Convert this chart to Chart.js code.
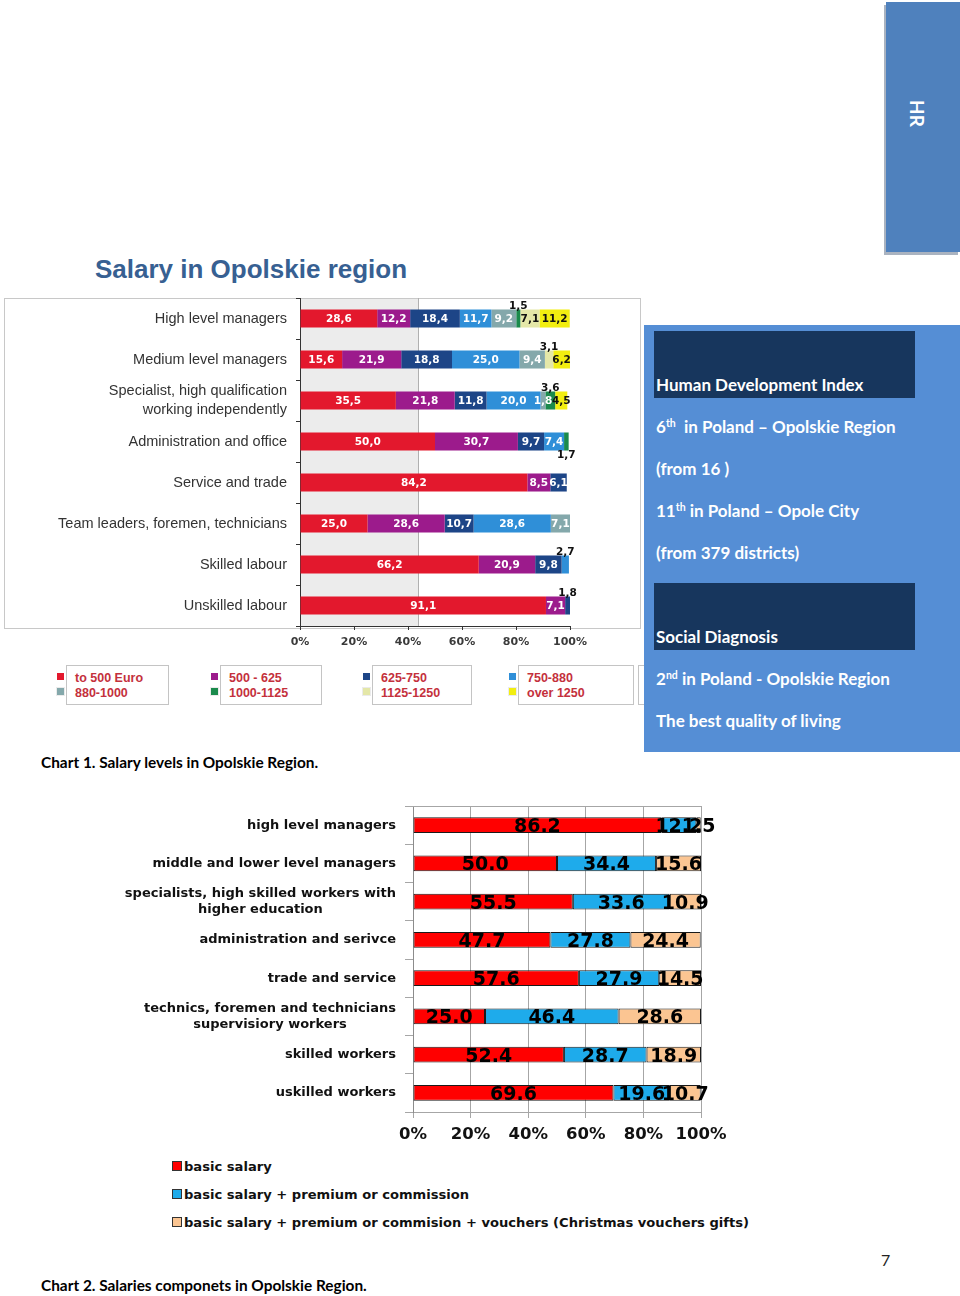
<!DOCTYPE html>
<html><head><meta charset="utf-8">
<script src="https://cdn.jsdelivr.net/npm/chart.js@4.4.1/dist/chart.umd.min.js"></script>
<style>
html,body{margin:0;padding:0;background:#fff;}
body{width:960px;height:1296px;position:relative;overflow:hidden;font-family:Lato,"Open Sans",sans-serif;}
.abs{position:absolute;}
#hr{left:886px;top:2px;width:74px;height:250px;background:#4f81bd;box-shadow:-2px 3px 0 #aab3c0;}
#hr span{position:absolute;left:20px;top:98px;writing-mode:vertical-rl;color:#fff;font:bold 19px Lato;}
#title{left:95px;top:254px;font:bold 26px "Liberation Sans",Arial,sans-serif;color:#376092;white-space:nowrap;}
#frame1{left:4px;top:298px;width:635px;height:329px;border:1px solid #c8c8c8;}
#side{left:644px;top:325px;width:316px;height:427px;background:#558ed5;}
.dark{position:absolute;left:10px;width:261px;height:67px;background:#17365d;}
.st{position:absolute;left:12px;color:#fff;font:bold 17px Lato;white-space:nowrap;line-height:20px;}
.st sup{font-size:10.5px;vertical-align:6px;line-height:0;}
.cap{position:absolute;left:41px;font:bold 15.4px Lato;color:#000;white-space:nowrap;line-height:18px;}
.lbox{position:absolute;top:665px;height:38px;background:#fff;border:1px solid #c4c4c4;}
.lbox div{position:absolute;left:8px;font:bold 12.5px "Liberation Sans",Arial,sans-serif;color:#c4303c;white-space:nowrap;line-height:14px;}
.lsq{position:absolute;width:7px;height:7px;}
.l2{position:absolute;left:172px;font:bold 13.1px "DejaVu Sans";color:#111;white-space:nowrap;line-height:16px;}
.l2 i{display:inline-block;width:8px;height:8px;border:1px solid #333;margin-right:2px;vertical-align:0px;}
</style></head>
<body>
<div id="hr" class="abs"><span>HR</span></div>
<div id="title" class="abs">Salary in Opolskie region</div>
<div id="frame1" class="abs"></div>
<div class="abs" style="left:4px;top:298px;"><canvas id="c1" width="636" height="356"></canvas></div>
<div id="legend1"></div>
<div class="lbox" style="left:638px;width:20px;"></div>
<div id="side" class="abs">
  <div class="dark" style="top:6px;"></div>
  <div class="dark" style="top:258px;"></div>
  <div class="st" style="top:50px;">Human Development Index</div>
  <div class="st" style="top:92px;">6<sup>th</sup>&nbsp; in Poland – Opolskie Region</div>
  <div class="st" style="top:134px;">(from 16 )</div>
  <div class="st" style="top:176px;">11<sup>th</sup> in Poland – Opole City</div>
  <div class="st" style="top:218px;">(from 379 districts)</div>
  <div class="st" style="top:302px;">Social Diagnosis</div>
  <div class="st" style="top:344px;">2<sup>nd</sup> in Poland - Opolskie Region</div>
  <div class="st" style="top:386px;">The best quality of living</div>
</div>
<div class="cap" style="top:753px;">Chart 1. Salary levels in Opolskie Region.</div>
<div class="abs" style="left:100px;top:800px;"><canvas id="c2" width="640" height="345"></canvas></div>
<div id="legend2"></div>
<div class="cap" style="top:1276px;">Chart 2. Salaries componets in Opolskie Region.</div>
<div class="abs" style="left:881px;top:1250px;font:16px Lato;color:#222;">7</div>

<script>
// ---------- Chart 1 data ----------
const occupations1 = ['High level managers','Medium level managers',['Specialist, high qualification','working independently'],'Administration and office','Service and trade','Team leaders, foremen, technicians','Skilled labour','Unskilled labour'];
const bands = ['to 500 Euro','500 - 625','625-750','750-880','880-1000','1000-1125','1125-1250','over 1250'];
const to500     = [28.6, 15.6, 35.5, 50.0, 84.2, 25.0, 66.2, 91.1];
const b500_625  = [12.2, 21.9, 21.8, 30.7, 8.5, 28.6, 20.9, 7.1];
const b625_750  = [18.4, 18.8, 11.8, 9.7, 6.1, 10.7, 9.8, 1.8];
const b750_880  = [11.7, 25.0, 20.0, 7.4, 0, 28.6, 2.7, 0];
const b880_1000 = [9.2, 9.4, 1.8, 0, 0, 7.1, 0, 0];
const b1000_1125= [1.5, 0, 3.6, 1.7, 0, 0, 0, 0];
const b1125_1250= [7.1, 3.1, 0, 0, 0, 0, 0, 0];
const over1250  = [11.2, 6.2, 4.5, 0, 0, 0, 0, 0];
const axisTicks1 = [0,20,40,60,80,100];

// ---------- Chart 2 data ----------
const occupations2 = ['high level managers','middle and lower level managers',['specialists, high skilled workers with','higher education'],'administration and serivce','trade and service',['technics, foremen and technicians','supervisiory workers'],'skilled workers','uskilled workers'];
const components = ['basic salary','basic salary + premium or commission','basic salary + premium or commision + vouchers (Christmas vouchers gifts)'];
const basicSalary  = [86.2, 50.0, 55.5, 47.7, 57.6, 25.0, 52.4, 69.6];
const withPremium  = [12.2, 34.4, 33.6, 27.8, 27.9, 46.4, 28.7, 19.6];
const withVouchers = [1.5, 15.6, 10.9, 24.4, 14.5, 28.6, 18.9, 10.7];

// ---------- styles ----------
const bandValues = [to500,b500_625,b625_750,b750_880,b880_1000,b1000_1125,b1125_1250,over1250];
const bandColors = ['#e3182d','#9c1b8c','#1d4587','#2f8fd8','#84a8ab','#1a8a4c','#e4e7a8','#f2ee10'];
const darkText1 = [6,7];
const outside1 = {'5-0':-13,'6-1':-13,'5-2':-13,'5-3':13,'3-6':-13,'2-7':-13};
const compValues = [basicSalary, withPremium, withVouchers];
const compColors = ['#ff0000','#1eabeb','#fbc592'];

// legend 1
(function(){
  const lefts=[66,220,372,518], widths=[101,100,98,114];
  let h='';
  for(let k=0;k<4;k++){
    const a=k, b=k+4;
    h+=`<div class="lsq" style="left:${lefts[k]-9}px;top:673px;background:${bandColors[a]}"></div>`;
    h+=`<div class="lsq" style="left:${lefts[k]-9}px;top:688px;background:${bandColors[b]};outline:1px solid rgba(0,0,0,0.08)"></div>`;
    h+=`<div class="lbox" style="left:${lefts[k]}px;width:${widths[k]}px;"><div style="top:5px">${bands[a]}</div><div style="top:20px">${bands[b]}</div></div>`;
  }
  document.getElementById('legend1').innerHTML=h;
  let h2='';
  components.forEach((c,i)=>{
    h2+=`<div class="l2" style="top:${1159+i*28}px;"><i style="background:${compColors[i]}"></i>${c}</div>`;
  });
  document.getElementById('legend2').innerHTML=h2;
})();

function noVPad(s){ s.paddingTop=0; s.paddingBottom=0; }

const shade1 = {
  id:'shade1',
  beforeDatasetsDraw(chart){
    const ctx=chart.ctx, a=chart.chartArea, xs=chart.scales.x;
    const xr=xs.getPixelForValue(43.7);
    ctx.save();
    ctx.fillStyle='#ececec';
    ctx.fillRect(a.left+1,a.top+1,xr-a.left-1,a.bottom-a.top-1);
    ctx.strokeStyle='#b0b0b0'; ctx.lineWidth=1;
    ctx.beginPath(); ctx.moveTo(Math.round(xr)+0.5,a.top); ctx.lineTo(Math.round(xr)+0.5,a.bottom); ctx.stroke();
    ctx.restore();
  }
};
const labels1 = {
  id:'labels1',
  afterDatasetsDraw(chart){
    const ctx=chart.ctx; ctx.save();
    ctx.font='bold 10.5px "DejaVu Sans"'; ctx.textAlign='center'; ctx.textBaseline='middle';
    chart.data.datasets.forEach((ds,di)=>{
      chart.getDatasetMeta(di).data.forEach((el,j)=>{
        const v=ds.data[j]; if(!v) return;
        let x=(el.x+el.base)/2, y=el.y+0.5;
        let col=darkText1.includes(di)?'#111':'#fff';
        const off=outside1[di+'-'+j];
        if(off!==undefined){col='#111'; y+=off;}
        ctx.fillStyle=col;
        ctx.fillText(v.toFixed(1).replace('.',','),x,y);
      });
    });
    ctx.restore();
  }
};

new Chart(document.getElementById('c1'),{
  type:'bar',
  data:{labels:occupations1,datasets:bands.map((n,i)=>({label:n,data:bandValues[i],backgroundColor:bandColors[i],borderWidth:0,barPercentage:0.44,categoryPercentage:1}))},
  options:{
    indexAxis:'y',responsive:false,animation:false,devicePixelRatio:1,
    layout:{padding:{left:0,right:70,top:0,bottom:0}},
    plugins:{legend:{display:false},tooltip:{enabled:false}},
    scales:{
      x:{stacked:true,min:0,max:100,afterBuildTicks(s){s.ticks=axisTicks1.map(v=>({value:v}));},
        ticks:{callback:v=>v+'%',font:{family:'DejaVu Sans',size:11,weight:'bold'},color:'#3a3a3a',padding:6,maxRotation:0},
        grid:{drawOnChartArea:false,drawTicks:true,tickLength:4,color:'#333'},border:{color:'#333'},
        afterFit(s){s.height=28;}},
      y:{stacked:true,ticks:{font:{family:'Liberation Sans',size:14.5,lineHeight:1.35},color:'#333',padding:9,autoSkip:false},
        grid:{drawOnChartArea:false,offset:true,tickLength:4,color:'#333'},border:{color:'#333'},
        afterFit(s){s.width=296; noVPad(s);}}
    }
  },
  plugins:[shade1,labels1]
});

const labels2 = {
  id:'labels2',
  beforeDatasetsDraw(chart){
    const ctx=chart.ctx,a=chart.chartArea;
    ctx.save(); ctx.strokeStyle='#a6a6a6'; ctx.lineWidth=1;
    ctx.beginPath(); ctx.moveTo(a.left,Math.round(a.top)+0.5); ctx.lineTo(a.right,Math.round(a.top)+0.5); ctx.stroke();
    ctx.restore();
  },
  afterDatasetsDraw(chart){
    const ctx=chart.ctx,a=chart.chartArea,ys=chart.scales.y;
    ctx.save();
    ctx.font='bold 13px "DejaVu Sans"'; ctx.fillStyle='#111'; ctx.textAlign='center'; ctx.textBaseline='middle';
    const right=a.left-17;
    chart.data.labels.forEach((lab,i)=>{
      const lines=Array.isArray(lab)?lab:[lab];
      const w=Math.max(...lines.map(l=>ctx.measureText(l).width));
      const cx=right-w/2, cy=ys.getPixelForValue(i);
      lines.forEach((l,k)=>ctx.fillText(l,cx,cy+(k-(lines.length-1)/2)*16));
    });
    ctx.font='bold 19px "DejaVu Sans"'; ctx.fillStyle='#000';
    chart.data.datasets.forEach((ds,di)=>{
      chart.getDatasetMeta(di).data.forEach((el,j)=>{
        const v=ds.data[j]; if(!v) return;
        ctx.fillText(v.toFixed(1),(el.x+el.base)/2,el.y+2);
      });
    });
    ctx.restore();
  }
};

new Chart(document.getElementById('c2'),{
  type:'bar',
  data:{labels:occupations2,datasets:components.map((n,i)=>({label:n,data:compValues[i],backgroundColor:compColors[i],borderColor:'#1a1a1a',borderWidth:1,borderSkipped:false,barPercentage:0.41,categoryPercentage:1}))},
  options:{
    indexAxis:'y',responsive:false,animation:false,devicePixelRatio:1,
    layout:{padding:{left:0,right:39,top:6,bottom:0}},
    plugins:{legend:{display:false},tooltip:{enabled:false}},
    scales:{
      x:{stacked:true,min:0,max:100,afterBuildTicks(s){s.ticks=axisTicks1.map(v=>({value:v}));},
        ticks:{callback:v=>v+'%',font:{family:'DejaVu Sans',size:16.5,weight:'bold'},color:'#111',padding:7,maxRotation:0},
        grid:{drawOnChartArea:true,drawTicks:true,tickLength:6,color:'#a6a6a6'},border:{color:'#a6a6a6'},
        afterFit(s){s.height=33;}},
      y:{stacked:true,ticks:{font:{family:'DejaVu Sans',size:13,weight:'bold'},color:'rgba(0,0,0,0)',padding:9,autoSkip:false},
        grid:{drawOnChartArea:false,offset:true,tickLength:8,color:'#a6a6a6'},border:{color:'#8c8c8c'},
        afterFit(s){s.width=313; noVPad(s);}}
    }
  },
  plugins:[labels2]
});
</script>
</body></html>
